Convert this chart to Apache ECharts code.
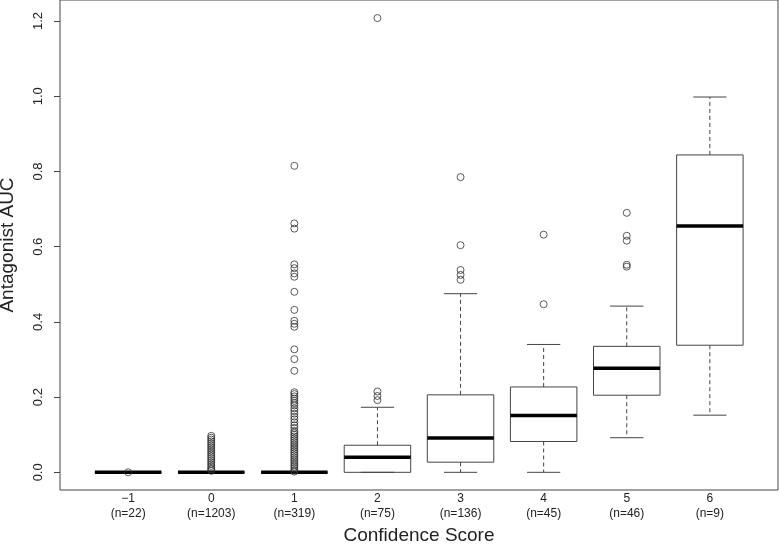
<!DOCTYPE html>
<html>
<head>
<meta charset="utf-8">
<script src="https://cdn.jsdelivr.net/npm/echarts@6/dist/echarts.min.js"></script>
<style>html,body{margin:0;padding:0;background:#fff}#c{width:779px;height:547px}</style>
</head>
<body>
<div id="c"></div>
<script>
// ---- data ----
const categories = ['\u22121', '0', '1', '2', '3', '4', '5', '6'];
const counts = [22, 1203, 319, 75, 136, 45, 46, 9];
const lowerWhisker = [0, 0, 0, 0, 0, 0, 0.092, 0.152];
const q1Values     = [0, 0, 0, 0, 0.027, 0.082, 0.205, 0.338];
const medianValues = [0, 0, 0, 0.040, 0.091, 0.151, 0.277, 0.655];
const q3Values     = [0, 0, 0, 0.072, 0.206, 0.227, 0.335, 0.844];
const upperWhisker = [0, 0, 0, 0.173, 0.475, 0.340, 0.442, 0.998];
const outliersM1 = [0];
const outliers0 = [0.097, 0.092, 0.087, 0.082, 0.077, 0.072, 0.067, 0.062, 0.057, 0.052,
  0.047, 0.042, 0.037, 0.032, 0.027, 0.022, 0.017, 0.012, 0.008, 0.004];
const outliers1 = [0.815, 0.662, 0.648, 0.553, 0.543, 0.529, 0.520, 0.480, 0.432, 0.403,
  0.395, 0.387, 0.327, 0.301, 0.270, 0.213, 0.208, 0.202, 0.196, 0.190, 0.184, 0.178,
  0.170, 0.163, 0.156, 0.148, 0.141, 0.133, 0.125, 0.118, 0.110, 0.105, 0.100, 0.095,
  0.090, 0.085, 0.080, 0.075, 0.070, 0.065, 0.060, 0.055, 0.050, 0.045, 0.040, 0.035,
  0.030, 0.025, 0.020, 0.015, 0.010, 0.005, 0.002];
const outliers2 = [1.208, 0.215, 0.203, 0.192];
const outliers3 = [0.785, 0.604, 0.538, 0.525, 0.512];
const outliers4 = [0.632, 0.447];
const outliers5 = [0.690, 0.629, 0.616, 0.552, 0.547];
const outliers6 = [];
const outlierGroups = [outliersM1, outliers0, outliers1, outliers2, outliers3, outliers4, outliers5, outliers6];
const yTicks = [0, 0.2, 0.4, 0.6, 0.8, 1.0, 1.2];
const xTicks = [1, 2, 3, 4, 5, 6, 7, 8];

// ---- build series data ----
const boxData = categories.map((c, i) => [i + 1, lowerWhisker[i], q1Values[i], medianValues[i], q3Values[i], upperWhisker[i]]);
const outlierData = [];
outlierGroups.forEach((g, i) => g.forEach(v => outlierData.push([i + 1, v])));

const FONT = 'Liberation Sans, Arial, sans-serif';
const chart = echarts.init(document.getElementById('c'), null, {renderer: 'canvas'});

chart.setOption({
  animation: false,
  backgroundColor: '#fff',
  grid: {left: 60, right: 1, top: 0, bottom: 57, show: true, borderColor: '#444', borderWidth: 1,
    backgroundColor: 'transparent', containLabel: false, outerBoundsMode: 'none'},
  xAxis: {
    type: 'value', min: 0.18, max: 8.82,
    name: 'Confidence Score', nameLocation: 'middle', nameGap: 34,
    nameTextStyle: {fontFamily: FONT, fontSize: 19, color: '#222'},
    axisLine: {show: false}, axisTick: {show: false}, splitLine: {show: false},
    axisLabel: {
      customValues: xTicks, margin: 1, fontFamily: FONT, fontSize: 12, color: '#222', lineHeight: 15,
      formatter: v => categories[Math.round(v) - 1] + '\n(n=' + counts[Math.round(v) - 1] + ')'
    }
  },
  yAxis: {
    type: 'value', min: -0.047, max: 1.256,
    name: 'Antagonist AUC', nameLocation: 'middle', nameGap: 43,
    nameTextStyle: {fontFamily: FONT, fontSize: 19, color: '#222'},
    axisLine: {show: false}, splitLine: {show: false},
    axisTick: {show: true, customValues: yTicks, length: 6, lineStyle: {color: '#444'}},
    axisLabel: {customValues: yTicks, rotate: 90, margin: 15, fontFamily: FONT, fontSize: 13, color: '#222',
      formatter: v => v.toFixed(1)}
  },
  series: [
    {
      type: 'custom',
      data: boxData,
      encode: {x: 0, y: [1, 2, 3, 4, 5]},
      renderItem: function (params, api) {
        const x = api.value(0);
        const lo = api.value(1), q1 = api.value(2), md = api.value(3), q3 = api.value(4), hi = api.value(5);
        const bw = api.size([0.8, 0])[0];
        const pLo = api.coord([x, lo]), pQ1 = api.coord([x, q1]), pMd = api.coord([x, md]);
        const pQ3 = api.coord([x, q3]), pHi = api.coord([x, hi]);
        const cx = pMd[0];
        const dash = {stroke: '#444', lineWidth: 1, lineDash: [4, 3]};
        const solid = {stroke: '#444', lineWidth: 1};
        return {
          type: 'group',
          children: [
            {type: 'line', shape: {x1: cx, y1: pQ3[1], x2: cx, y2: pHi[1]}, style: dash},
            {type: 'line', shape: {x1: cx, y1: pQ1[1], x2: cx, y2: pLo[1]}, style: dash},
            {type: 'line', shape: {x1: cx - bw / 4, y1: pHi[1], x2: cx + bw / 4, y2: pHi[1]}, style: solid},
            {type: 'line', shape: {x1: cx - bw / 4, y1: pLo[1], x2: cx + bw / 4, y2: pLo[1]}, style: solid},
            {type: 'rect', shape: {x: cx - bw / 2, y: pQ3[1], width: bw, height: pQ1[1] - pQ3[1]},
              style: {fill: 'transparent', stroke: '#444', lineWidth: 1}},
            {type: 'line', shape: {x1: cx - bw / 2, y1: pMd[1], x2: cx + bw / 2, y2: pMd[1]},
              style: {stroke: '#000', lineWidth: 3.5}}
          ]
        };
      },
      z: 2
    },
    {
      type: 'scatter',
      data: outlierData,
      symbol: 'circle', symbolSize: 7,
      itemStyle: {color: 'transparent', borderColor: '#333', borderWidth: 1},
      z: 3
    }
  ]
});
</script>
</body>
</html>
